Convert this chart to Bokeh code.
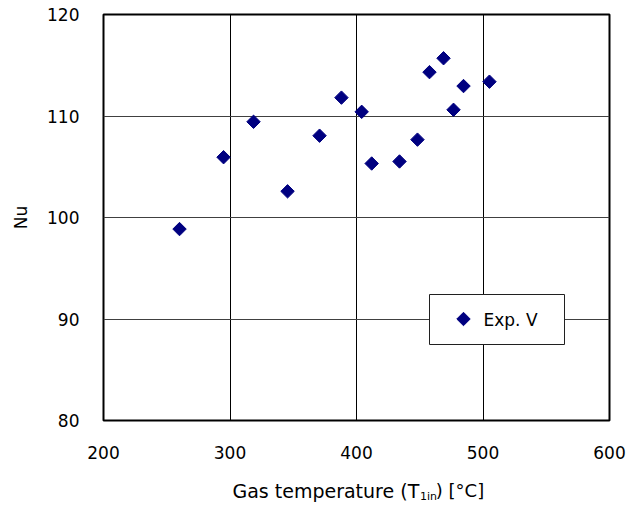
import numpy as np
from bokeh.plotting import figure
from bokeh.layouts import column
from bokeh.models import ColumnDataSource, Label, Range1d, FixedTicker
from bokeh.embed import file_html
from bokeh.resources import INLINE

# Measured Nusselt number versus inlet gas temperature
gas_temp = [260.1, 294.9, 318.6, 345.5, 370.8, 388.1, 404.1, 412.0,
            434.0, 448.2, 457.7, 468.8, 476.7, 484.6, 505.1]
nu = [98.86, 105.94, 109.43, 102.58, 108.06, 111.81, 110.41, 105.32,
      105.52, 107.67, 114.32, 115.69, 110.61, 112.95, 113.38]
x_ticks = [200, 300, 400, 500, 600]
y_ticks = [80, 90, 100, 110, 120]
series_name = "Exp. V"
y_title = "Nu"
x_title = ("Gas temperature (T", "1in", ") [°C]")

FONT = "DejaVu Sans"
NAVY = "#000080"

# plot geometry (pixels)
W = 641
TITLE_H = 36
H = 470
B_LEFT, B_RIGHT, B_TOP, B_BOTTOM = 103, 32, 14, 50
X0, X1, Y0, Y1 = x_ticks[0], x_ticks[-1], y_ticks[0], y_ticks[-1]
FRAME_W = W - B_LEFT - B_RIGHT
FRAME_H = H - B_TOP - B_BOTTOM


def sx_to_data(px):
    """canvas x pixel -> data x"""
    return X0 + (px - B_LEFT) * (X1 - X0) / FRAME_W


def sy_to_data(py):
    """canvas y pixel (from top) -> data y"""
    return Y1 - (py - B_TOP) * (Y1 - Y0) / FRAME_H


p = figure(width=W, height=H, output_backend="svg", toolbar_location=None,
           x_range=Range1d(X0, X1), y_range=Range1d(Y0, Y1),
           min_border_left=B_LEFT, min_border_right=B_RIGHT, min_border_top=B_TOP,
           min_border_bottom=B_BOTTOM)
p.background_fill_color = "white"
p.border_fill_color = "white"
p.outline_line_color = "black"
p.outline_line_width = 2

MARKER = dict(marker="square", angle=np.pi / 4, size=9.5,
              fill_color=NAVY, line_color=NAVY)

# grid
p.xgrid.ticker = FixedTicker(ticks=x_ticks)
p.ygrid.ticker = FixedTicker(ticks=y_ticks)
p.xgrid.grid_line_color = "black"
p.ygrid.grid_line_color = "#404040"
p.xgrid.grid_line_width = 1
p.ygrid.grid_line_width = 1

# axes
for ax, ticks in ((p.xaxis[0], x_ticks), (p.yaxis[0], y_ticks)):
    ax.ticker = FixedTicker(ticks=ticks)
    ax.axis_line_color = None
    ax.major_tick_line_color = None
    ax.minor_tick_line_color = None
    ax.major_tick_out = 0
    ax.major_tick_in = 0
    ax.minor_tick_out = 0
    ax.major_label_text_font = FONT
    ax.major_label_text_font_size = "17px"
    ax.major_label_text_color = "black"

p.xaxis.major_label_standoff = 25
p.yaxis.major_label_standoff = 24
p.yaxis.axis_label = y_title
p.yaxis.axis_label_text_font = FONT
p.yaxis.axis_label_text_font_size = "17px"
p.yaxis.axis_label_text_font_style = "normal"
p.yaxis.axis_label_text_color = "black"
p.yaxis.axis_label_standoff = 13

# legend box, drawn as plain glyphs so the key keeps its diamond shape
LEG_L, LEG_R, LEG_T, LEG_B = 429, 564, 294, 344
p.quad(left=[sx_to_data(LEG_L)], right=[sx_to_data(LEG_R)],
       top=[sy_to_data(LEG_T)], bottom=[sy_to_data(LEG_B)],
       fill_color="white", line_color="#202020", line_width=1)
p.scatter(x=[sx_to_data(463)], y=[sy_to_data(318.5)], **MARKER)
p.add_layout(Label(x=sx_to_data(483), y=sy_to_data(319), text=series_name,
                   text_font=FONT, text_font_size="17px", text_align="left",
                   text_baseline="middle", text_color="black"))

# data points
src = ColumnDataSource(dict(x=gas_temp, y=nu))
p.scatter("x", "y", source=src, **MARKER)

# x-axis title with subscript, in its own strip under the plot
t = figure(width=W, height=TITLE_H, output_backend="svg", toolbar_location=None,
           x_range=Range1d(0, W), y_range=Range1d(0, TITLE_H), min_border=0)
t.axis.visible = False
t.grid.visible = False
t.outline_line_color = None
t.background_fill_color = "white"
t.border_fill_color = "white"
title_parts = [(x_title[0], 400, 16, "right", "19px"),
               (x_title[1], 401, 10, "left", "11px"),
               (x_title[2], 421, 16, "left", "18px")]
for txt, px, py, align, size in title_parts:
    t.add_layout(Label(x=px, y=py, text=txt, text_font=FONT, text_font_size=size,
                       text_align=align, text_baseline="middle", text_color="black"))

layout = column(p, t, spacing=0)
open("out.html", "w").write(file_html(layout, INLINE))
